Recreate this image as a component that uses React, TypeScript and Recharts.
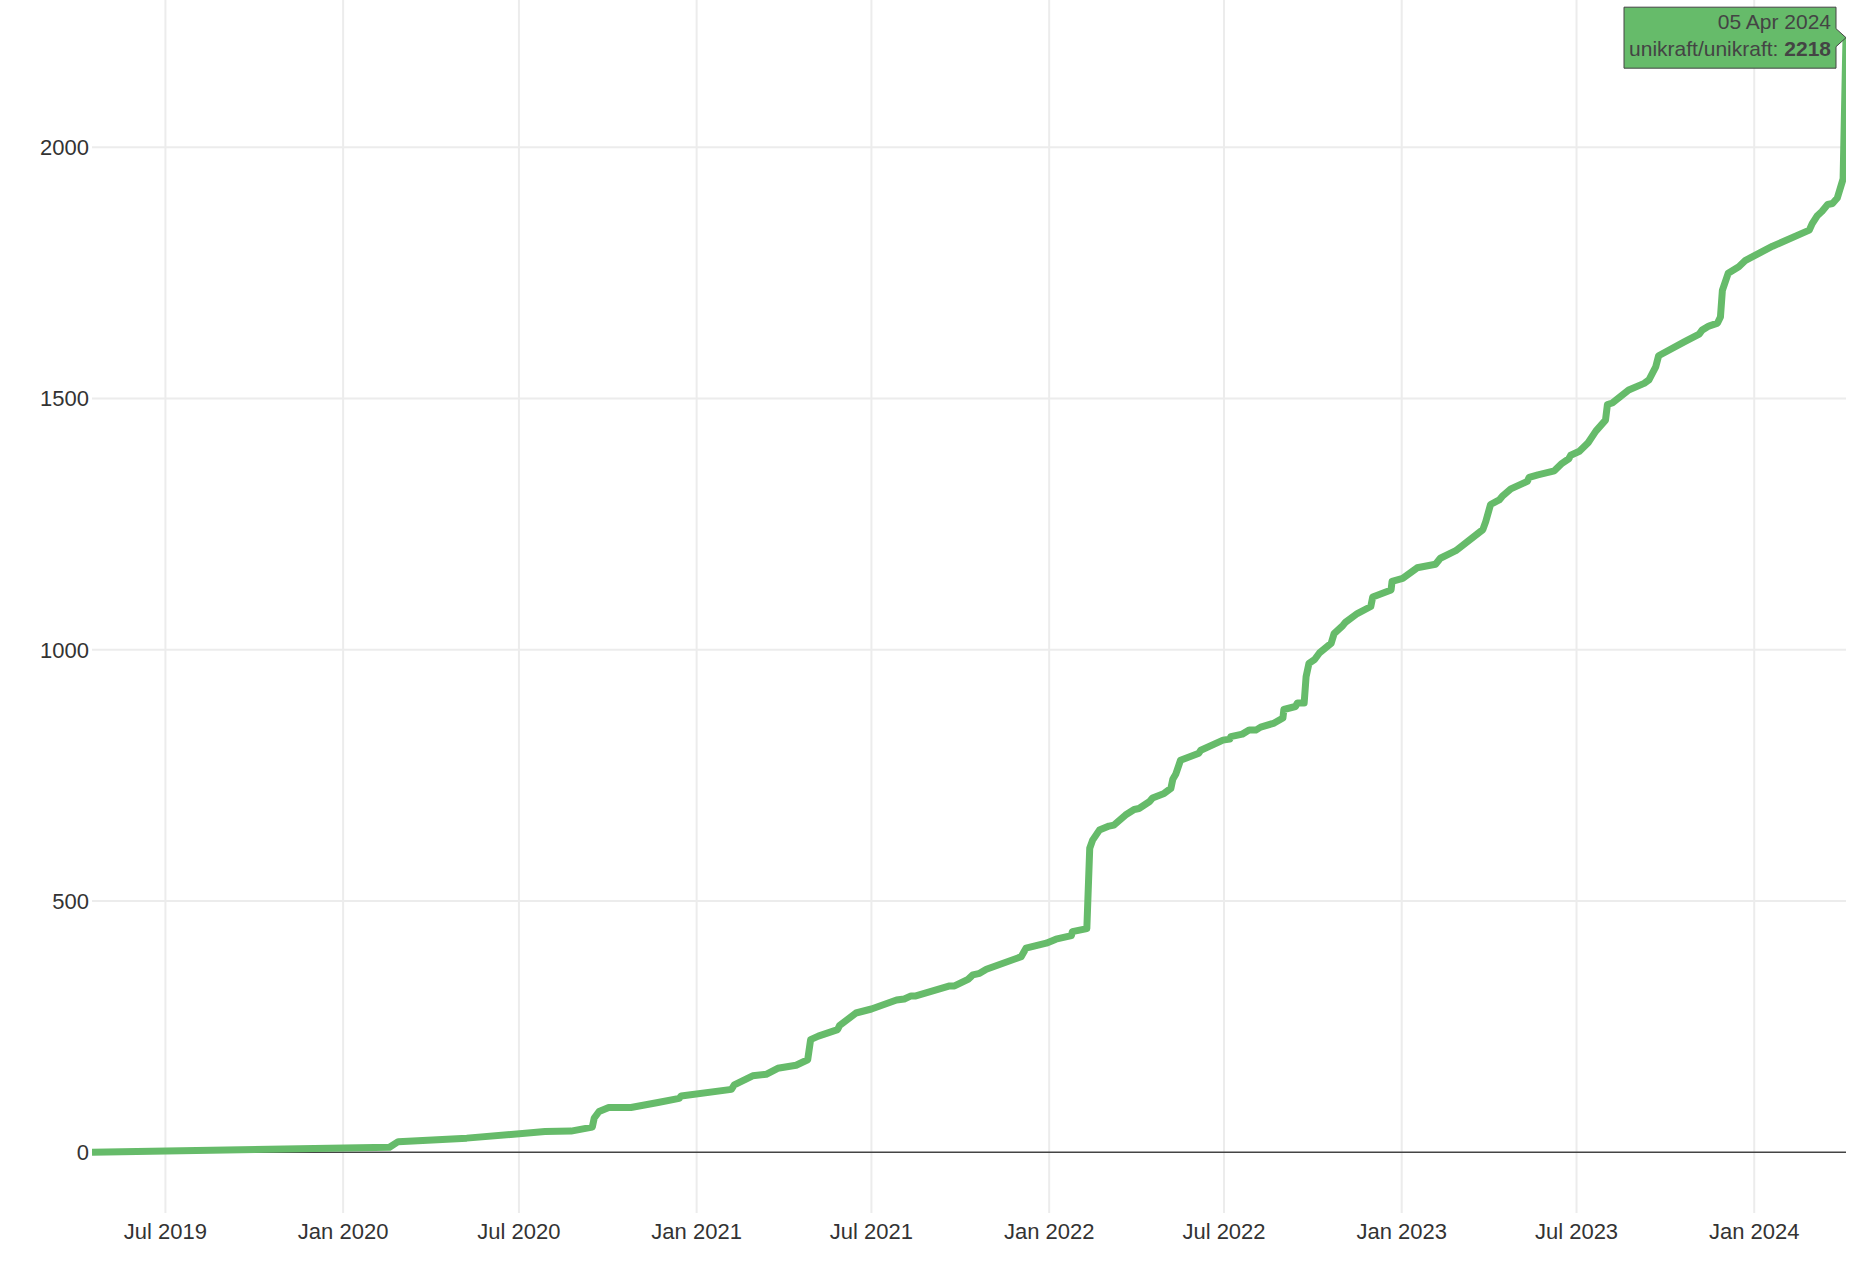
import React from 'react';
import { Line, LineChart, ReferenceLine, XAxis, YAxis } from 'recharts';

// cumulative stars, one date per point
const starDates = [
  '2019-04-16', '2020-02-18', '2020-02-27', '2020-05-08', '2020-07-28', '2020-08-24',
  '2020-09-15', '2020-09-17', '2020-09-22', '2020-10-02', '2020-10-25', '2020-11-22',
  '2020-12-14', '2020-12-16', '2021-02-06', '2021-02-09', '2021-02-28', '2021-03-14',
  '2021-03-26', '2021-04-14', '2021-04-26', '2021-04-29', '2021-05-07', '2021-05-27',
  '2021-05-29', '2021-06-15', '2021-07-01', '2021-07-27', '2021-08-04', '2021-08-11',
  '2021-08-16', '2021-09-20', '2021-09-25', '2021-10-09', '2021-10-14', '2021-10-21',
  '2021-10-28', '2021-12-03', '2021-12-08', '2021-12-29', '2022-01-08', '2022-01-24',
  '2022-01-25', '2022-02-09', '2022-02-12', '2022-02-15', '2022-02-22', '2022-03-04',
  '2022-03-09', '2022-03-21', '2022-03-30', '2022-04-04', '2022-04-15', '2022-04-18',
  '2022-04-30', '2022-05-07', '2022-05-09', '2022-05-12', '2022-05-17', '2022-06-05',
  '2022-06-07', '2022-06-30', '2022-07-07', '2022-07-08', '2022-07-20', '2022-07-27',
  '2022-08-03', '2022-08-08', '2022-08-22', '2022-08-31', '2022-09-01', '2022-09-13',
  '2022-09-15', '2022-09-22', '2022-09-24', '2022-09-27', '2022-10-03', '2022-10-08',
  '2022-10-20', '2022-10-23', '2022-11-01', '2022-11-04', '2022-11-16', '2022-11-30',
  '2022-12-02', '2022-12-21', '2022-12-22', '2023-01-02', '2023-01-17', '2023-02-05',
  '2023-02-10', '2023-02-26', '2023-03-26', '2023-03-29', '2023-04-03', '2023-04-12',
  '2023-04-15', '2023-04-24', '2023-05-11', '2023-05-13', '2023-05-22', '2023-06-08',
  '2023-06-16', '2023-06-23', '2023-06-25', '2023-07-04', '2023-07-13', '2023-07-21',
  '2023-07-31', '2023-08-02', '2023-08-07', '2023-08-24', '2023-09-09', '2023-09-14',
  '2023-09-21', '2023-09-24', '2023-10-21', '2023-11-05', '2023-11-08', '2023-11-15',
  '2023-11-24', '2023-11-27', '2023-11-29', '2023-12-05', '2023-12-16', '2023-12-23',
  '2024-01-20', '2024-02-27', '2024-03-01', '2024-03-06', '2024-03-11', '2024-03-17',
  '2024-03-22', '2024-03-27', '2024-04-02', '2024-04-05',
];

const starCounts = [
  0, 10, 21, 28, 41, 42,
  50, 68, 81, 89, 89, 99,
  107, 112, 125, 134, 152, 155,
  167, 173, 184, 224, 231, 244,
  252, 277, 285, 303, 305, 311,
  311, 331, 331, 344, 353, 356,
  364, 389, 406, 416, 424, 431,
  439, 445, 605, 621, 641, 649,
  651, 671, 682, 684, 698, 705,
  714, 724, 742, 752, 780, 794,
  800, 820, 822, 827, 832, 840,
  840, 846, 854, 864, 881, 887,
  894, 894, 946, 973, 981, 994,
  1013, 1032, 1048, 1055, 1072, 1086,
  1105, 1119, 1136, 1142, 1163, 1170,
  1182, 1197, 1239, 1255, 1289, 1298,
  1305, 1320, 1335, 1343, 1348, 1356,
  1371, 1380, 1387, 1395, 1412, 1435,
  1457, 1488, 1491, 1517, 1530, 1537,
  1563, 1585, 1613, 1628, 1636, 1644,
  1650, 1662, 1715, 1749, 1762, 1775,
  1803, 1835, 1848, 1863, 1872, 1886,
  1888, 1899, 1937, 2218,
];

const xTickDates = [
  '2019-07-01', '2020-01-01', '2020-07-01', '2021-01-01', '2021-07-01',
  '2022-01-01', '2022-07-01', '2023-01-01', '2023-07-01', '2024-01-01',
];
const yTicks = [0, 500, 1000, 1500, 2000];

const SERIES_NAME = 'unikraft/unikraft';
const LINE_COLOR = '#66bb6a';
const GRID_COLOR = '#ececec';
const FONT = '"Liberation Sans", Arial, Helvetica, sans-serif';
const MONTHS = ['Jan', 'Feb', 'Mar', 'Apr', 'May', 'Jun', 'Jul', 'Aug', 'Sep', 'Oct', 'Nov', 'Dec'];

const toTs = (s: string) => Date.parse(s + 'T00:00:00Z');

const data = starDates.map((d, i) => ({ t: toTs(d), stars: starCounts[i] }));
const xTicks = xTickDates.map(toTs);

const fmtTick = (v: number) => {
  const d = new Date(v);
  return `${MONTHS[d.getUTCMonth()]} ${d.getUTCFullYear()}`;
};

const fmtHoverDate = (v: number) => {
  const d = new Date(v);
  return `${String(d.getUTCDate()).padStart(2, '0')} ${MONTHS[d.getUTCMonth()]} ${d.getUTCFullYear()}`;
};

// hover label pinned on the last point, drawn like the reference's tooltip
const renderHover = (props: any) => {
  const { x, y, index } = props;
  if (index !== data.length - 1) return null;
  const last = data[data.length - 1];
  const w = 212;
  const h = 61;
  const a = 9;
  const right = x - 10;
  const left = right - w;
  const top = y - h / 2;
  const bottom = y + h / 2;
  const path = `M${x},${y} L${right},${y - a} V${top} H${left} V${bottom} H${right} V${y + a} Z`;
  return (
    <g>
      <path d={path} fill={LINE_COLOR} stroke="#444" strokeWidth={1} />
      <text x={right - 5} y={y - 9} textAnchor="end" fontSize={21} fill="#444" fontFamily={FONT}>
        {fmtHoverDate(last.t)}
      </text>
      <text x={right - 5} y={y + 18} textAnchor="end" fontSize={21} fill="#444" fontFamily={FONT}>
        <tspan>{SERIES_NAME}: </tspan>
        <tspan fontWeight="bold">{last.stars}</tspan>
      </text>
    </g>
  );
};

export default function App() {
  return (
    <div style={{ position: 'absolute', left: 0, top: 0, width: 1868, height: 1282, background: '#fff', fontFamily: FONT }}>
      <LineChart width={1868} height={1282} data={data} margin={{ top: 0, right: 22, bottom: 0, left: 0 }}>
        <XAxis
          dataKey="t"
          type="number"
          domain={[data[0].t, data[data.length - 1].t]}
          ticks={xTicks}
          tickFormatter={fmtTick}
          axisLine={false}
          tickLine={false}
          tickSize={0}
          tickMargin={10}
          height={69}
          tick={{ fontSize: 22, fill: '#333', fontFamily: FONT }}
          allowDataOverflow
        />
        <YAxis
          type="number"
          domain={[-121, 2293]}
          ticks={yTicks}
          axisLine={false}
          tickLine={false}
          tickSize={0}
          tickMargin={3}
          width={92}
          tick={{ fontSize: 22, fill: '#333', fontFamily: FONT }}
          allowDataOverflow
        />
        {xTicks.map((t) => (
          <ReferenceLine key={`vx-${t}`} x={t} stroke={GRID_COLOR} strokeWidth={2} />
        ))}
        {yTicks.filter((v) => v !== 0).map((v) => (
          <ReferenceLine key={`hy-${v}`} y={v} stroke={GRID_COLOR} strokeWidth={2} />
        ))}
        <ReferenceLine y={0} stroke="#444" strokeWidth={1.5} />
        <Line
          type="linear"
          dataKey="stars"
          stroke={LINE_COLOR}
          strokeWidth={7}
          strokeLinejoin="round"
          dot={false}
          activeDot={false}
          isAnimationActive={false}
          label={renderHover}
        />
      </LineChart>
    </div>
  );
}
